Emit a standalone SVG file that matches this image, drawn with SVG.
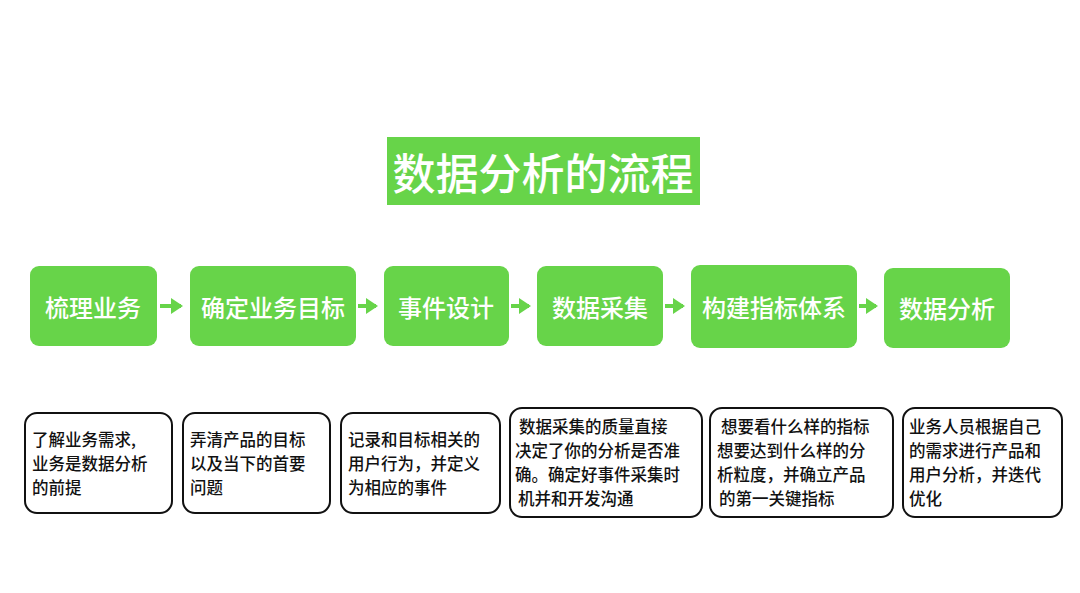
<svg xmlns="http://www.w3.org/2000/svg" width="1080" height="593" viewBox="0 0 1080 593">
<style>
.g{fill:#67d449}
.gt{fill:#fff;font-family:"Noto Sans CJK SC",sans-serif;font-size:24px;font-weight:500;text-anchor:middle;dominant-baseline:central}
.d{fill:#fff;stroke:#111;stroke-width:2}
.dt{fill:#111;font-family:"Noto Sans CJK SC",sans-serif;font-size:16.5px;font-weight:500}
.c{stroke:#67d449;stroke-width:4;fill:none}
</style>
<defs><marker id="a" markerWidth="4" markerHeight="4" refX="2.5" refY="2" orient="auto"><path d="M0,0L3,2L0,4Z" fill="#67d449"/></marker></defs>
<rect width="1080" height="593" fill="#fff"/>
<g id="title"><rect x="387" y="137" width="313" height="68" class="g"/><text x="543" y="171" class="gt" style="font-size:43px">数据分析的流程</text></g>
<g id="n1"><rect x="30" y="266" width="127" height="80" rx="9" class="g"/><text x="93" y="306" class="gt">梳理业务</text></g>
<g id="n2"><rect x="190" y="266" width="166" height="80" rx="9" class="g"/><text x="273" y="306" class="gt">确定业务目标</text></g>
<g id="n3"><rect x="384" y="266" width="125" height="80" rx="9" class="g"/><text x="446" y="306" class="gt">事件设计</text></g>
<g id="n4"><rect x="537" y="266" width="126" height="80" rx="9" class="g"/><text x="600" y="306" class="gt">数据采集</text></g>
<g id="n5"><rect x="691" y="265" width="166" height="83" rx="9" class="g"/><text x="774" y="306" class="gt">构建指标体系</text></g>
<g id="n6"><rect x="884" y="268" width="126" height="80" rx="9" class="g"/><text x="947" y="307" class="gt">数据分析</text></g>
<g id="connectors">
<path d="M160,306H181" class="c" marker-end="url(#a)"/>
<path d="M358,306H376" class="c" marker-end="url(#a)"/>
<path d="M511,306H529" class="c" marker-end="url(#a)"/>
<path d="M665,306H683" class="c" marker-end="url(#a)"/>
<path d="M859,306H876" class="c" marker-end="url(#a)"/>
</g>
<g id="d1"><rect x="25" y="413" width="147" height="100" rx="12" class="d"/><text class="dt"><tspan x="32" y="446">了解业务需求,</tspan><tspan x="32" y="470">业务是数据分析</tspan><tspan x="32" y="494">的前提</tspan></text></g>
<g id="d2"><rect x="183" y="413" width="147" height="100" rx="12" class="d"/><text class="dt"><tspan x="190" y="446">弄清产品的目标</tspan><tspan x="190" y="470">以及当下的首要</tspan><tspan x="190" y="494">问题</tspan></text></g>
<g id="d3"><rect x="341" y="413" width="159" height="100" rx="12" class="d"/><text class="dt"><tspan x="348" y="446">记录和目标相关的</tspan><tspan x="348" y="470">用户行为，并定义</tspan><tspan x="348" y="494">为相应的事件</tspan></text></g>
<g id="d4"><rect x="510" y="408" width="192" height="109" rx="12" class="d"/><text class="dt"><tspan x="519" y="433">数据采集的质量直接</tspan><tspan x="515" y="457">决定了你的分析是否准</tspan><tspan x="515" y="481">确。确定好事件采集时</tspan><tspan x="518" y="505">机并和开发沟通</tspan></text></g>
<g id="d5"><rect x="710" y="408" width="183" height="109" rx="12" class="d"/><text class="dt"><tspan x="721" y="433">想要看什么样的指标</tspan><tspan x="717" y="457">想要达到什么样的分</tspan><tspan x="717" y="481">析粒度，并确立产品</tspan><tspan x="719" y="505">的第一关键指标</tspan></text></g>
<g id="d6"><rect x="903" y="408" width="159" height="109" rx="12" class="d"/><text class="dt"><tspan x="909" y="433">业务人员根据自己</tspan><tspan x="909" y="457">的需求进行产品和</tspan><tspan x="909" y="481">用户分析，并迭代</tspan><tspan x="909" y="505">优化</tspan></text></g>
</svg>
